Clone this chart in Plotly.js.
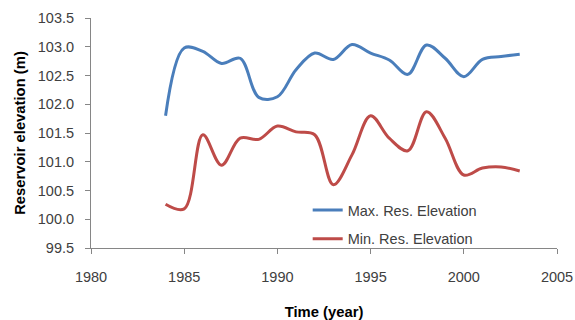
<!DOCTYPE html>
<html><head><meta charset="utf-8">
<script src="https://cdn.plot.ly/plotly-3.0.1.min.js"></script>
<style>html,body{margin:0;padding:0;background:#fff}#c{width:575px;height:320px}</style>
</head><body><div id="c"></div>
<script>
const years = [1984,1985,1986,1987,1988,1989,1990,1991,1992,1993,1994,1995,1996,1997,1998,1999,2000,2001,2002,2003];
const maxElev = [101.80,102.98,102.92,102.71,102.80,102.12,102.13,102.60,102.89,102.78,103.04,102.89,102.77,102.52,103.03,102.80,102.48,102.78,102.83,102.87];
const minElev = [100.26,100.18,101.47,100.94,101.41,101.39,101.62,101.52,101.47,100.60,101.12,101.80,101.41,101.19,101.87,101.41,100.77,100.89,100.91,100.84];
const xTicks = [1980,1985,1990,1995,2000,2005];
const yTicks = [99.5,100.0,100.5,101.0,101.5,102.0,102.5,103.0,103.5];
const seriesNames = ['Max. Res. Elevation','Min. Res. Elevation'];

const fam = 'Liberation Sans, Arial, sans-serif';
const font = {family:fam, size:14.5, color:'#404040'};
const titleFont = {family:fam, size:14.8, color:'#000'};
const traces = [
  {x:years, y:maxElev, name:seriesNames[0], type:'scatter', mode:'lines',
   line:{color:'#4a7ebb', width:3, shape:'spline', smoothing:1}, legend:'legend'},
  {x:years, y:minElev, name:seriesNames[1], type:'scatter', mode:'lines',
   line:{color:'#be4b48', width:3, shape:'spline', smoothing:1}, legend:'legend2'}
];
const axisCommon = {showgrid:false, zeroline:false, showline:true, linecolor:'#868686', linewidth:1,
  ticks:'outside', ticklen:5, tickcolor:'#868686', tickfont:font, automargin:false};
const layout = {
  width:575, height:320, margin:{l:91, r:18, t:18, b:72},
  paper_bgcolor:'#fff', plot_bgcolor:'#fff', font:font,
  xaxis: Object.assign({}, axisCommon, {range:[1980,2005], tickvals:xTicks, ticktext:xTicks.map(String),
    ticklabelstandoff:11,
    title:{text:'<b>Time (year)</b>', font:titleFont, standoff:22}}),
  yaxis: Object.assign({}, axisCommon, {range:[99.5,103.5], tickvals:yTicks, ticktext:yTicks.map(v=>v.toFixed(1)),
    ticklabelstandoff:8,
    title:{text:'<b>Reservoir elevation (m)</b>', font:titleFont, standoff:8}}),
  legend:{x:0.465, y:0.165, xanchor:'left', yanchor:'middle', bgcolor:'rgba(0,0,0,0)', font:font, itemwidth:30},
  legend2:{x:0.465, y:0.04, xanchor:'left', yanchor:'middle', bgcolor:'rgba(0,0,0,0)', font:font, itemwidth:30},
  showlegend:true
};
Plotly.newPlot('c', traces, layout, {displayModeBar:false, staticPlot:true});
</script></body></html>
